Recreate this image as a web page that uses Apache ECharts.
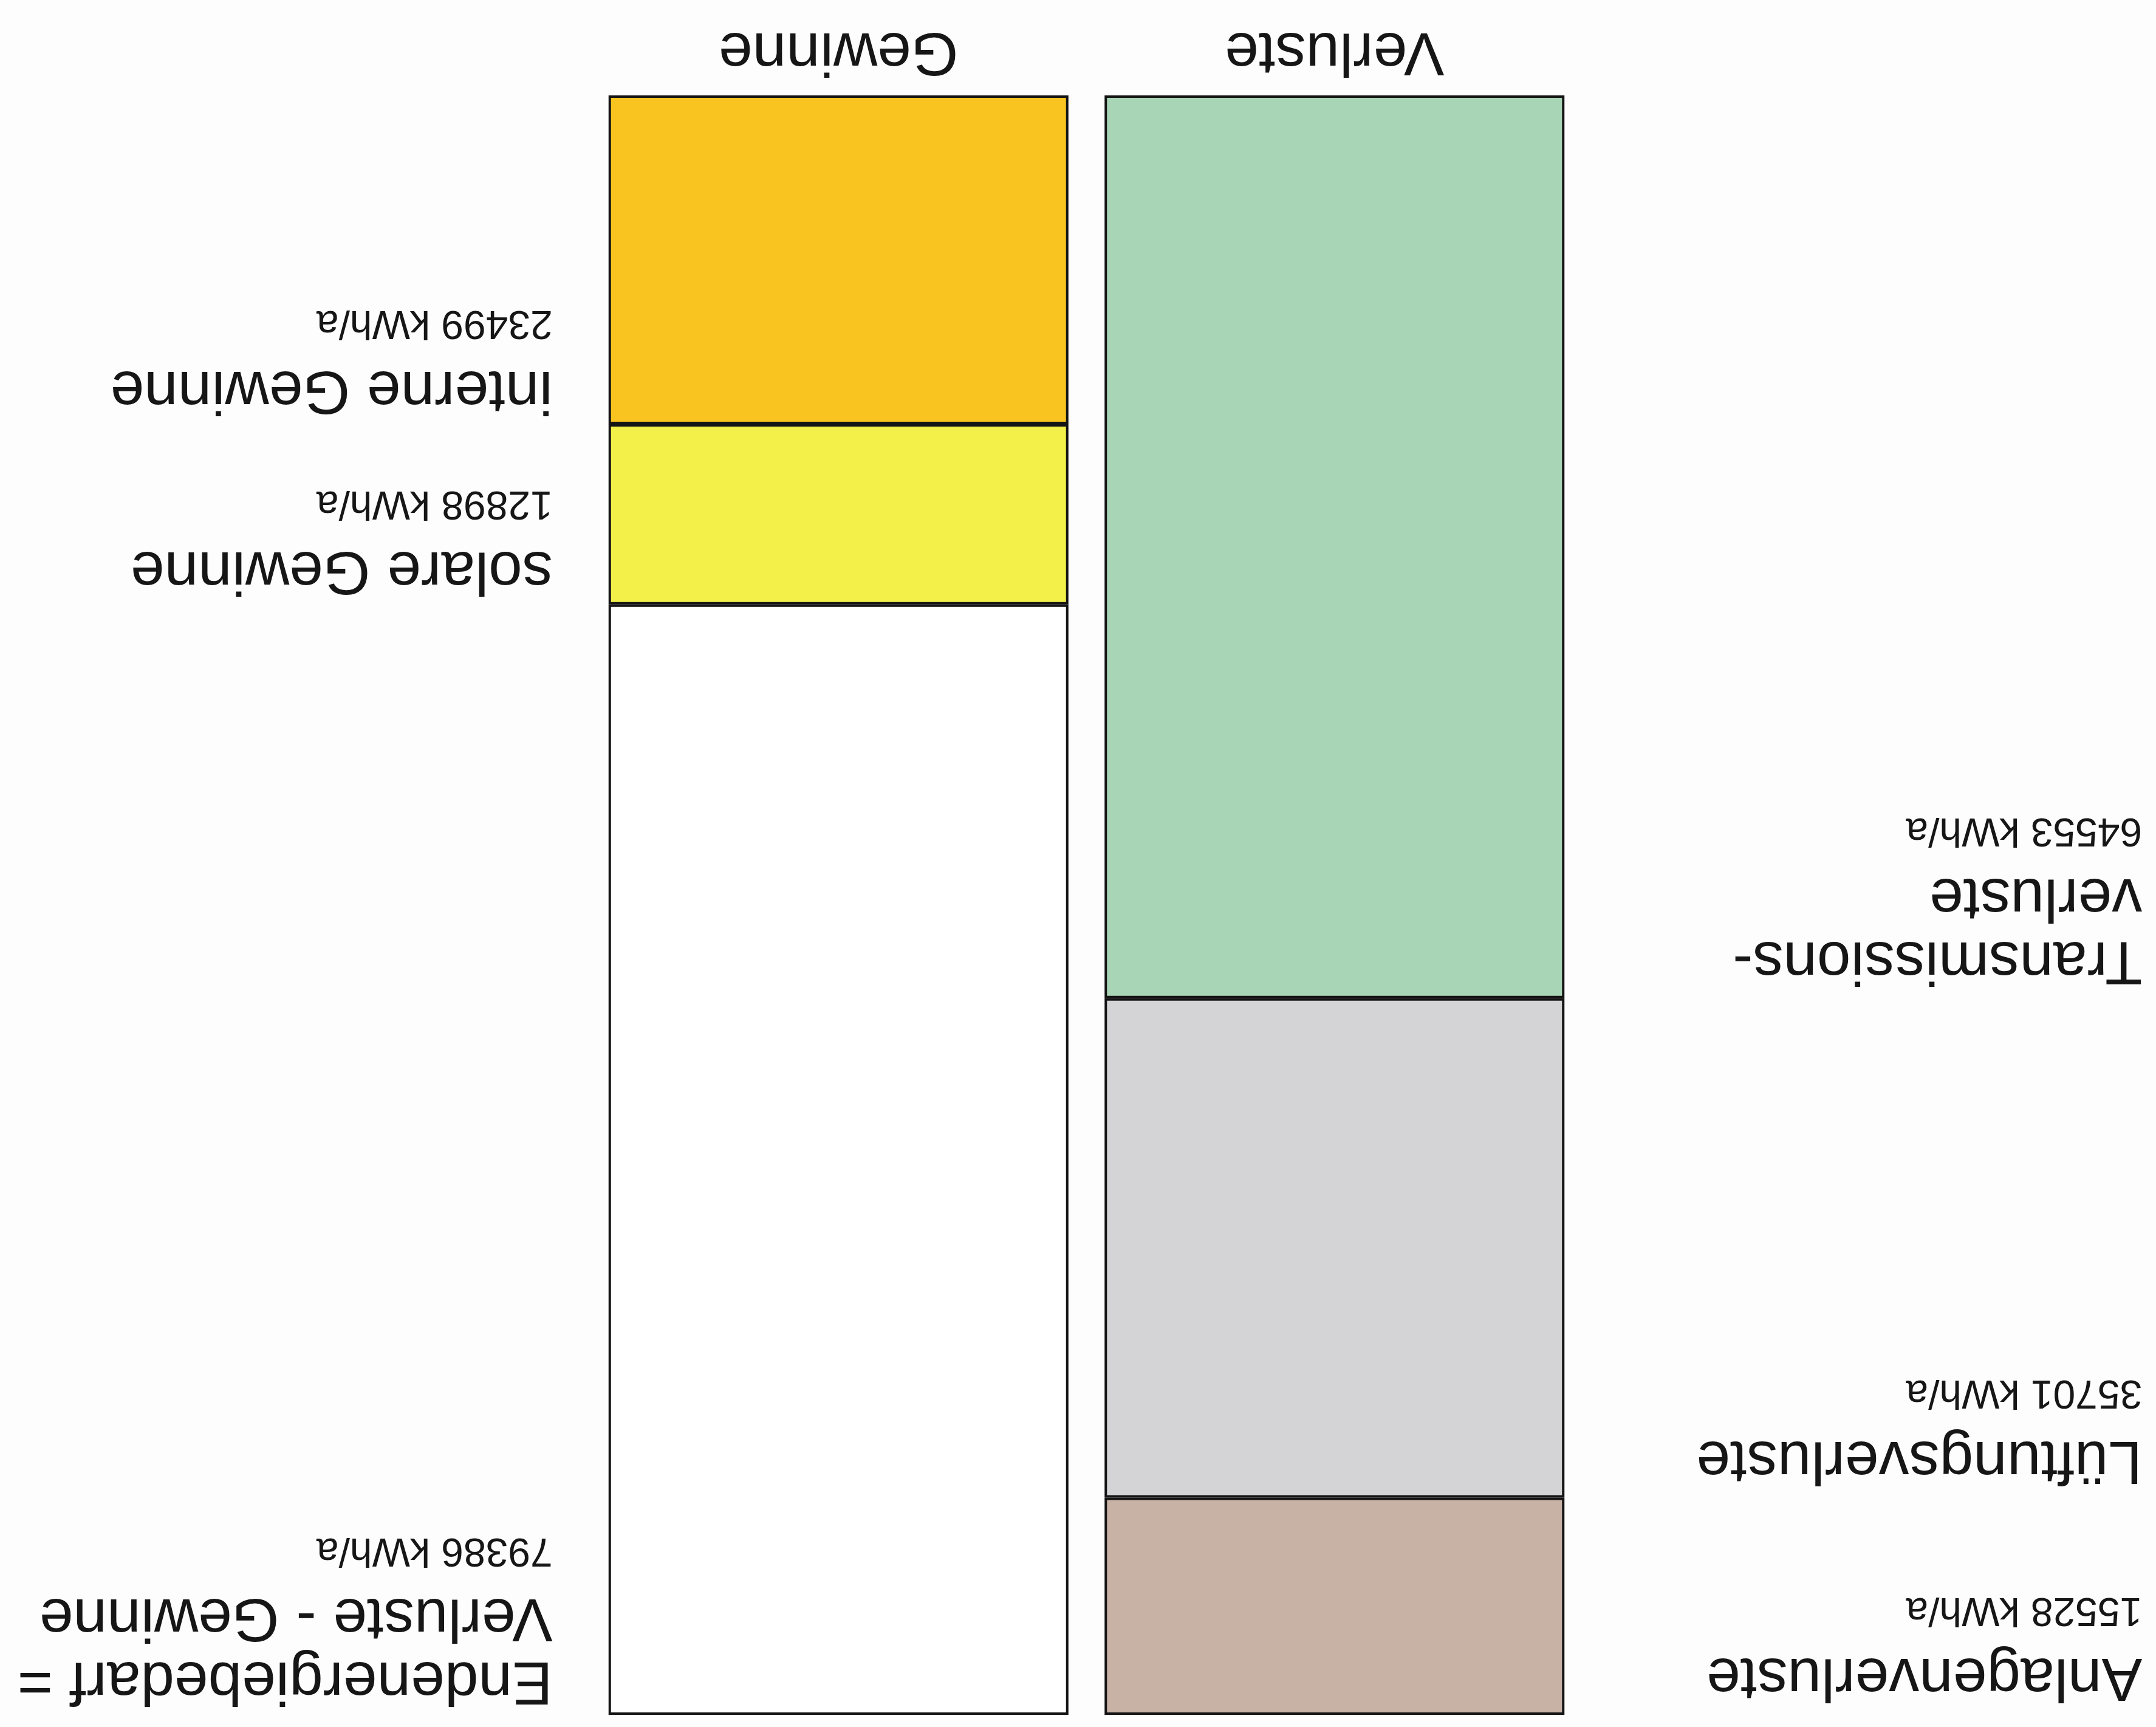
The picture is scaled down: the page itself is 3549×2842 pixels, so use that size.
<!DOCTYPE html>
<html>
<head>
    <meta charset="utf-8">
    <title>Energiebilanz</title>
    <script src="https://cdn.jsdelivr.net/npm/echarts@6/dist/echarts.min.js"></script>
    <style>
        html, body { margin: 0; padding: 0; background: #fdfdfd; overflow: hidden; }
        /* the scanned original is upside down, so the whole chart is turned */
        #main { width: 3549px; height: 2842px; transform: rotate(180deg); }
    </style>
</head>
<body>
    <div id="main"></div>
    <script type="text/javascript">
        var categories = ['Verluste', 'Gewinne'];

        // Verluste, from the bottom of the bar upwards
        var lossNames = ['Transmissions-\nverluste', 'Lüftungsverluste', 'Anlagenverluste'];
        var lossValues = [64553, 35701, 15528];
        var lossColors = ['#a9d5b7', '#d4d4d6', '#c8b1a5'];

        // Gewinne, from the bottom of the bar upwards
        var gainNames = ['interne Gewinne', 'solare Gewinne', 'Endenergiebedarf =\nVerluste - Gewinne'];
        var gainValues = [23499, 12898, 79386];
        var gainColors = ['#f9c420', '#f4f04a', '#ffffff'];

        var unit = 'kWh/a';

        var myChart = echarts.init(document.getElementById('main'));

        function labelText(name, value) {
            var lines = name.split('\n').map(function (l) { return '{t|' + l + '}'; });
            return lines.join('\n') + '\n{n|' + value + ' ' + unit + '}';
        }

        var rich = {
            t: { fontSize: 100, lineHeight: 104, color: '#161616', fontFamily: 'Liberation Sans' },
            n: { fontSize: 66, lineHeight: 116, color: '#161616', fontFamily: 'Liberation Sans' }
        };

        function makeSeries(names, values, colors, catIndex, labelPos) {
            return names.map(function (name, i) {
                var data = categories.map(function (c, j) { return j === catIndex ? values[i] : '-'; });
                return {
                    name: name,
                    type: 'bar',
                    stack: 'total',
                    barWidth: 757,
                    data: data,
                    itemStyle: { color: colors[i], borderColor: '#141414', borderWidth: 4 },
                    label: {
                        show: true,
                        position: labelPos,
                        align: 'left',
                        verticalAlign: 'top',
                        formatter: function (p) { return labelText(name, p.value); },
                        rich: rich
                    }
                };
            });
        }

        var total = Math.max(
            lossValues.reduce(function (a, b) { return a + b; }, 0),
            gainValues.reduce(function (a, b) { return a + b; }, 0)
        );

        var option = {
            animation: false,
            backgroundColor: '#fdfdfd',
            grid: { left: 944, right: 972, top: 20, bottom: 157 },
            xAxis: {
                type: 'category',
                data: categories,
                axisLine: { show: false },
                axisTick: { show: false },
                axisLabel: {
                    margin: 24,
                    fontSize: 100,
                    color: '#161616',
                    fontFamily: 'Liberation Sans'
                }
            },
            yAxis: {
                type: 'value',
                min: 0,
                max: total,
                show: false
            },
            series: makeSeries(lossNames, lossValues, lossColors, 0, [-951, 12])
                .concat(makeSeries(gainNames, gainValues, gainColors, 1, [849, 6]))
        };

        myChart.setOption(option);
    </script>
</body>
</html>
